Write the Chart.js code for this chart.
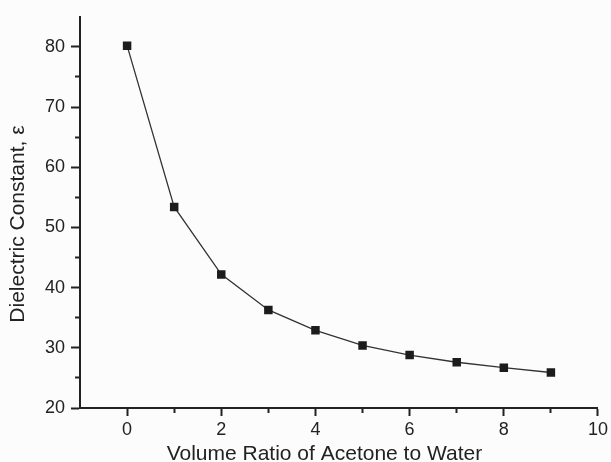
<!DOCTYPE html>
<html>
<head>
<meta charset="utf-8">
<script src="https://cdn.jsdelivr.net/npm/chart.js@4/dist/chart.umd.min.js"></script>
<style>
  html, body { margin: 0; padding: 0; background: #fcfcfc; }
  #c { display: block; }
</style>
</head>
<body>
<canvas id="c" width="611" height="462"></canvas>
<script>
// ---- data ----
const volumeRatio = [0, 1, 2, 3, 4, 5, 6, 7, 8, 9];
const dielectricConstant = [80.2, 53.4, 42.2, 36.3, 32.9, 30.4, 28.8, 27.6, 26.7, 25.9];
const xMajorTicks = [0, 2, 4, 6, 8, 10];
const xMinorTicks = [1, 3, 5, 7, 9];
const yMajorTicks = [20, 30, 40, 50, 60, 70, 80];
const yMinorTicks = [25, 35, 45, 55, 65, 75];
// trailing spaces nudge the centred titles the way the reference places them
const xTitle = 'Volume Ratio of Acetone to Water' + '\u00a0\u00a0\u00a0\u00a0\u00a0';
const yTitle = 'Dielectric Constant, \u03b5' + '\u00a0\u00a0\u00a0\u00a0';

const FONT = '"Liberation Sans", Arial, Helvetica, sans-serif';
const INK = '#222222';

function setTicks(values) {
  return function (scale) { scale.ticks = values.map(v => ({ value: v })); };
}

const points = volumeRatio.map((x, i) => ({ x: x, y: dielectricConstant[i] }));

new Chart(document.getElementById('c'), {
  type: 'line',
  data: {
    datasets: [{
      data: points,
      xAxisID: 'x',
      yAxisID: 'y',
      borderColor: '#333333',
      borderWidth: 1.3,
      tension: 0,
      fill: false,
      pointStyle: 'rect',
      pointRadius: 6,
      pointBackgroundColor: '#1c1c1c',
      pointBorderColor: '#1c1c1c',
      pointBorderWidth: 0
    }]
  },
  options: {
    responsive: false,
    devicePixelRatio: 1,
    animation: false,
    layout: { padding: { top: 12, right: 12, left: 0, bottom: 0 } },
    plugins: { legend: { display: false }, tooltip: { enabled: false } },
    scales: {
      x: {
        type: 'linear', position: 'bottom', min: -1, max: 10, weight: 1,
        afterBuildTicks: setTicks(xMajorTicks),
        afterFit: s => { s.height = 54; },
        border: { display: true, color: INK, width: 2 },
        grid: { drawOnChartArea: false, drawTicks: true, tickLength: 8, color: INK, tickColor: INK, tickWidth: 2 },
        ticks: { padding: 3, color: INK, font: { family: FONT, size: 18 }, maxRotation: 0 },
        title: { display: true, text: xTitle, color: INK, font: { family: FONT, size: 21, lineHeight: 0.72 }, padding: { top: 0, bottom: 0 } }
      },
      xMinor: {
        type: 'linear', position: 'bottom', min: -1, max: 10, weight: 0,
        afterBuildTicks: setTicks(xMinorTicks),
        afterFit: s => { s.height = 0; },
        border: { display: false },
        grid: { drawOnChartArea: false, drawTicks: true, tickLength: 5, color: INK, tickColor: INK, tickWidth: 2 },
        ticks: { callback: () => '', padding: 0 }
      },
      y: {
        type: 'linear', position: 'left', min: 20, max: 85, weight: 1,
        afterBuildTicks: setTicks(yMajorTicks),
        afterFit: s => { s.width = 80; },
        border: { display: true, color: INK, width: 2 },
        grid: { drawOnChartArea: false, drawTicks: true, tickLength: 9, color: INK, tickColor: INK, tickWidth: 2 },
        ticks: { padding: 6, color: INK, font: { family: FONT, size: 18 } },
        title: { display: true, text: yTitle, color: INK, font: { family: FONT, size: 21, lineHeight: 1.2 }, padding: { top: 6, bottom: 0 } }
      },
      yMinor: {
        type: 'linear', position: 'left', min: 20, max: 85, weight: 0,
        afterBuildTicks: setTicks(yMinorTicks),
        afterFit: s => { s.width = 0; },
        border: { display: false },
        grid: { drawOnChartArea: false, drawTicks: true, tickLength: 5, color: INK, tickColor: INK, tickWidth: 2 },
        ticks: { callback: () => '', padding: 0 }
      }
    }
  }
});
</script>
</body>
</html>
